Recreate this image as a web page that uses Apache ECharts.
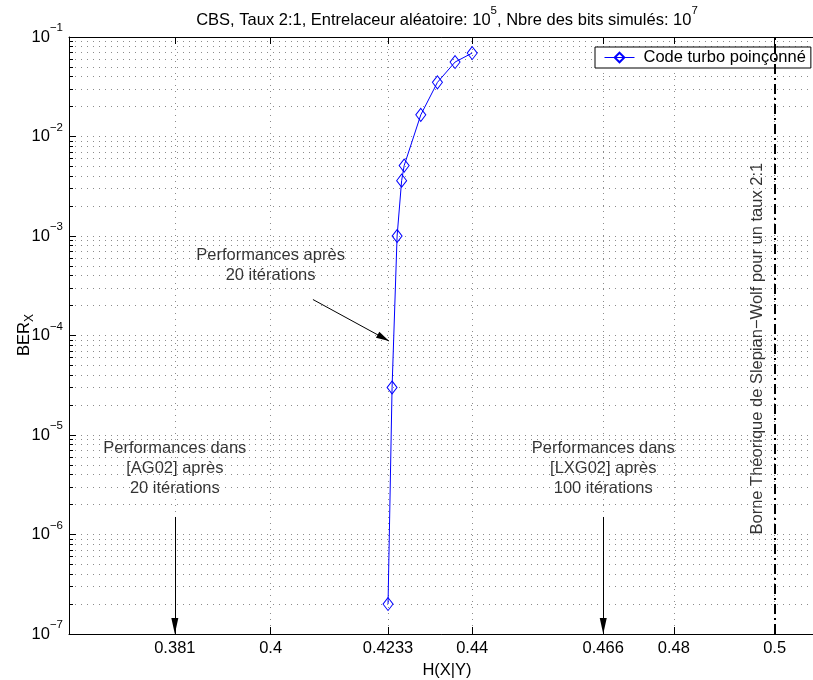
<!DOCTYPE html>
<html><head><meta charset="utf-8">
<script src="https://cdn.jsdelivr.net/npm/echarts@6/dist/echarts.min.js"></script>
<style>html,body{margin:0;padding:0;background:#fff}#c{width:813px;height:680px}</style>
</head><body><div id="c"></div>
<script>
// ---- data ----
const hxy = [0.4233, 0.4241, 0.4251, 0.4260, 0.4265, 0.4298, 0.4331, 0.4366, 0.4400];
const ber = [2e-7, 3e-5, 1e-3, 3.6e-3, 5.1e-3, 1.65e-2, 3.5e-2, 5.6e-2, 6.9e-2];
const xTicks = [0.381, 0.4, 0.4233, 0.44, 0.466, 0.48, 0.5];
const yDecades = [1e-7, 1e-6, 1e-5, 1e-4, 1e-3, 1e-2, 1e-1];
const yMinorMult = [2, 3, 4, 5, 6, 7, 8, 9];
const boundX = 0.5;
const noteText = ['Performances après\n20 itérations',
                  'Performances dans\n[AG02] après\n20 itérations',
                  'Performances dans\n[LXG02] après\n100 itérations'];
const noteX = [0.4, 0.381, 0.466];
const noteY = [5e-4, 4.6e-6, 4.6e-6];
const arrowFrom = [[0.381, 1.5e-6], [0.466, 1.5e-6], [0.4084, 2.3e-4]];
const arrowTo   = [[0.381, 1e-7],   [0.466, 1e-7],   [0.4235, 8.8e-5]];
const boundText = 'Borne Théorique de Slepian\u2212Wolf pour un taux 2:1';
const boundTextPos = [0.4965, 1e-6];
const seriesName = 'Code turbo poinçonné';

// ---- derived tick list ----
const yMinor = [];
yDecades.slice(0, -1).forEach(d => yMinorMult.forEach(m => yMinor.push(m * d)));

const F = "'Liberation Sans', Arial, Helvetica, sans-serif";
const FS = 16.5;
const grid = { color: '#8c8c8c', type: [1, 5], width: 1 };

const chart = echarts.init(document.getElementById('c'), null, { renderer: 'canvas' });

const arrowData = arrowFrom.map((p, i) => [
  { coord: p, lineStyle: { color: '#000', width: 1, type: 'solid' } },
  { coord: arrowTo[i], symbol: 'triangle', symbolSize: i < 2 ? [7, 16] : [7, 13], symbolOffset: [0, '50%'] }
]);

const option = {
  animation: false,
  backgroundColor: '#fff',
  textStyle: { fontFamily: F },
  title: {
    text: '{t|CBS, Taux 2:1, Entrelaceur aléatoire: 10}{s|5}{t|, Nbre des bits simulés: 10}{s|7}',
    left: 447, top: 5, textAlign: 'center', padding: 0,
    textStyle: {
      fontWeight: 'normal',
      rich: {
        t: { fontSize: FS, fontFamily: F, fontWeight: 'normal', color: '#000', lineHeight: 30, verticalAlign: 'middle' },
        s: { fontSize: 11.5, fontFamily: F, fontWeight: 'normal', color: '#000', lineHeight: 12, verticalAlign: 'top' }
      }
    }
  },
  legend: {
    data: [seriesName],
    left: 595, top: 47,
    backgroundColor: '#fff', borderColor: '#000', borderWidth: 1, borderRadius: 0,
    padding: [2, 5, 2, 9],
    itemWidth: 30, itemHeight: 12,
    lineStyle: { width: 1 },
    textStyle: { fontSize: FS, fontFamily: F, color: '#000', padding: [0, 0, 0, 4] }
  },
  graphic: [{
    type: 'text', x: 24, y: 335, rotation: Math.PI / 2, silent: true,
    style: {
      text: '{n|BER}{x|X}', align: 'center', verticalAlign: 'middle',
      rich: {
        n: { fontSize: FS, fontFamily: F, fill: '#000', lineHeight: 24, verticalAlign: 'middle' },
        x: { fontSize: 12, fontFamily: F, fill: '#000', lineHeight: 12, verticalAlign: 'bottom' }
      }
    }
  }],
  grid: { left: 69, top: 37, width: 756, height: 597, containLabel: false, outerBoundsMode: 'none' },
  xAxis: [
    {
      type: 'value', min: 0.36, max: 0.51, position: 'bottom',
      axisLine: { show: true, onZero: false, lineStyle: { color: '#000', width: 1 } },
      axisTick: { show: true, inside: true, length: 7, customValues: xTicks, lineStyle: { color: '#000' } },
      axisLabel: { show: true, customValues: xTicks, margin: 6, fontSize: FS, fontFamily: F, color: '#000',
                   formatter: v => String(v) },
      splitLine: { show: true, lineStyle: grid },
      name: 'H(X|Y)', nameLocation: 'middle', nameGap: 27,
      nameTextStyle: { fontSize: FS, fontFamily: F, color: '#000' }
    },
    {
      type: 'value', min: 0.36, max: 0.51, position: 'top',
      axisLine: { show: true, onZero: false, lineStyle: { color: '#000', width: 1 } },
      axisTick: { show: true, inside: true, length: 7, customValues: xTicks, lineStyle: { color: '#000' } },
      axisLabel: { show: false },
      splitLine: { show: false }
    }
  ],
  yAxis: [
    {
      type: 'log', logBase: 10, min: 1e-7, max: 1e-1, position: 'left',
      axisLine: { show: true, onZero: false, lineStyle: { color: '#000', width: 1 } },
      axisTick: { show: true, inside: true, length: 7, customValues: yDecades, lineStyle: { color: '#000' } },
      axisLabel: {
        show: true, customValues: yDecades, margin: 6,
        formatter: v => '{b|10}{s|' + String(Math.round(Math.log10(v))).replace('-', '\u2212') + '}',
        rich: {
          b: { fontSize: FS, fontFamily: F, color: '#000', lineHeight: 30, verticalAlign: 'middle' },
          s: { fontSize: 11.5, fontFamily: F, color: '#000', lineHeight: 12, verticalAlign: 'top' }
        }
      },
      splitLine: { show: true, lineStyle: grid }
    },
    {
      type: 'log', logBase: 10, min: 1e-7, max: 1e-1, position: 'left',
      axisLine: { show: false },
      axisTick: { show: true, inside: true, length: 4, customValues: yMinor, lineStyle: { color: '#000' } },
      axisLabel: { show: false },
      splitLine: { show: true, lineStyle: grid }
    }
  ],
  series: [
    {
      name: seriesName, type: 'line', xAxisIndex: 0, yAxisIndex: 0, z: 5,
      data: hxy.map((x, i) => [x, ber[i]]),
      symbol: 'diamond', symbolSize: [10, 13], showSymbol: true,
      lineStyle: { color: '#0000ff', width: 1 },
      itemStyle: { color: 'rgba(255,255,255,0)', borderColor: '#0000ff', borderWidth: 1 },
      markLine: {
        silent: true, animation: false, symbol: ['none', 'none'], label: { show: false },
        emphasis: { disabled: true },
        data: arrowData.concat([[
          { coord: [boundX, 1e-7], lineStyle: { color: '#000', width: 2, type: [10, 4, 2, 4] } },
          { coord: [boundX, 1e-1] }
        ]])
      }
    },
    {
      name: 'notes', type: 'scatter', xAxisIndex: 0, yAxisIndex: 0, silent: true, z: 4,
      symbolSize: 1, itemStyle: { color: 'rgba(0,0,0,0)' },
      data: noteX.map((x, i) => ({ value: [x, noteY[i]], label: { formatter: noteText[i] } })),
      label: { show: true, position: 'inside', color: '#000', fontSize: FS, fontFamily: F,
               lineHeight: 20, align: 'center', verticalAlign: 'middle' }
    },
    {
      name: 'bound', type: 'scatter', xAxisIndex: 0, yAxisIndex: 0, silent: true, z: 4,
      symbolSize: 1, itemStyle: { color: 'rgba(0,0,0,0)' },
      data: [{ value: boundTextPos }],
      label: { show: true, position: 'inside', formatter: boundText, rotate: 90, color: '#000',
               fontSize: FS, fontFamily: F, align: 'left', verticalAlign: 'middle' }
    }
  ]
};
chart.setOption(option);
</script>
</body></html>
